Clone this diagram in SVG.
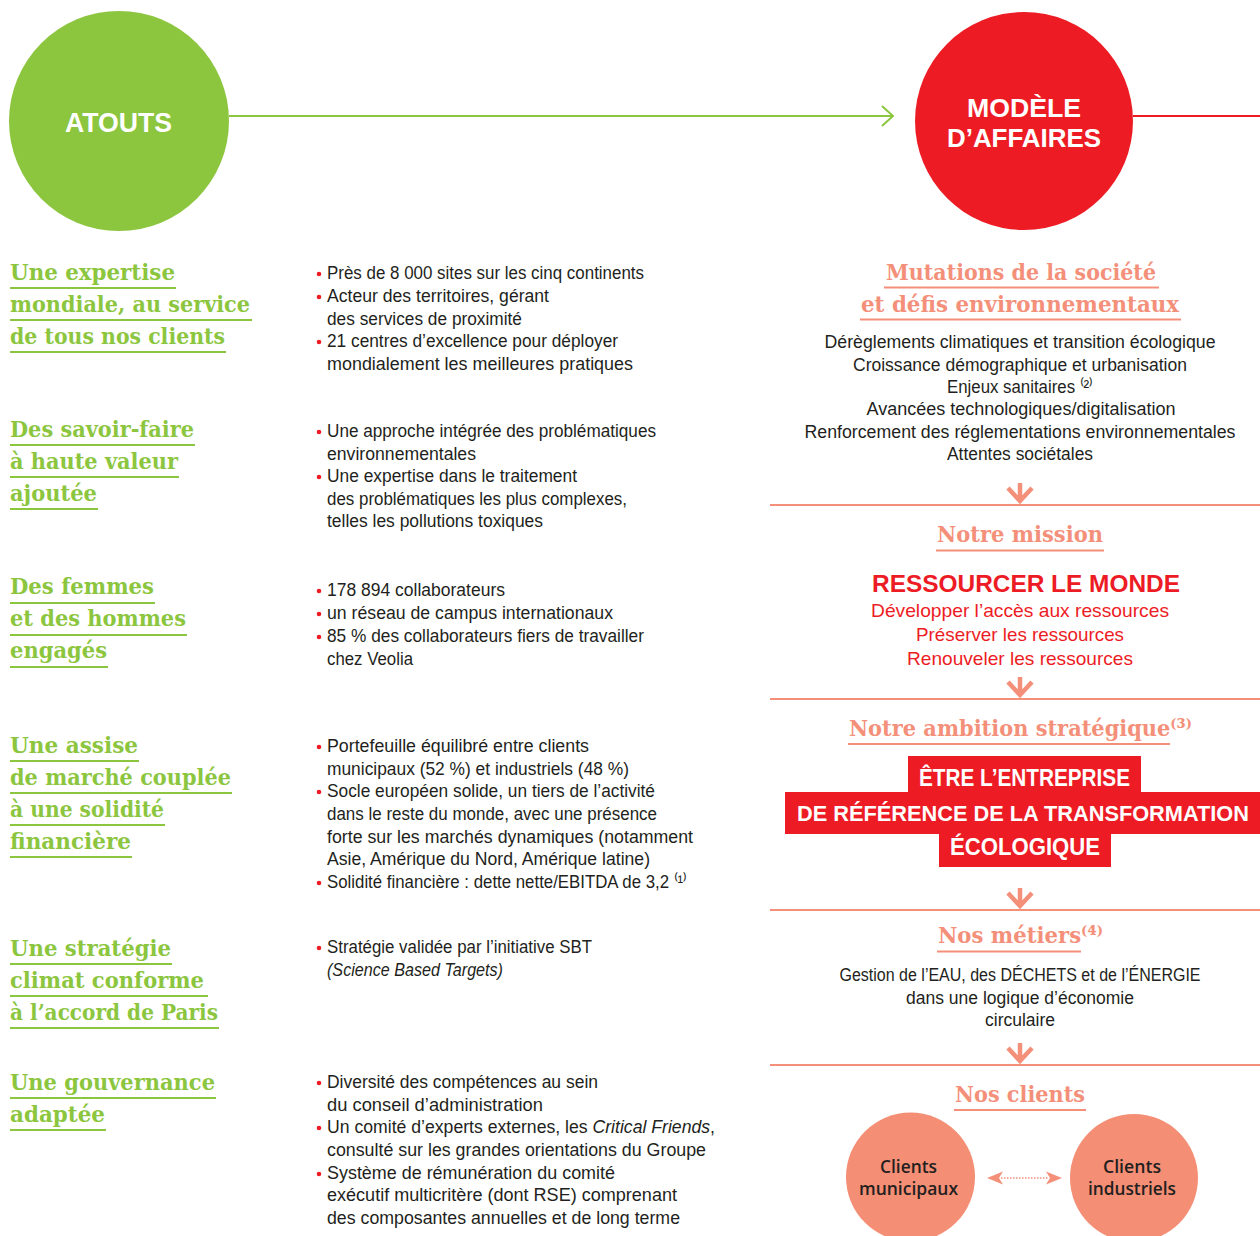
<svg xmlns="http://www.w3.org/2000/svg" width="1260" height="1236" viewBox="0 0 1260 1236">
<defs>
<style>
.hg{font-family:"DejaVu Serif","Liberation Serif",serif;font-weight:bold;font-size:23px;fill:#8cc63f}
.hs{font-family:"DejaVu Serif","Liberation Serif",serif;font-weight:bold;font-size:23px;fill:#f4907a}
.ulg{stroke:#8cc63f;stroke-width:2;fill:none}
.uls{stroke:#f4907a;stroke-width:2;fill:none}
.b{font-family:"Liberation Sans",Arial,sans-serif;font-size:17.5px;fill:#231f20}
.c{text-anchor:middle}
.red{font-family:"Liberation Sans",Arial,sans-serif;fill:#ed1c24;text-anchor:middle}
.wt{font-family:"Liberation Sans",Arial,sans-serif;font-weight:bold;font-size:24px;fill:#fff;text-anchor:middle}
.ct{font-family:"Open Sans","Liberation Sans",sans-serif;font-weight:600;font-size:18px;fill:#231f20;text-anchor:middle}
.dot{fill:#ed1c24}
.sep{stroke:#f4907a;stroke-width:2}
</style>
<path id="chev" d="M-12,-17 L0,-4 L12,-17 M0,-22 V-4" fill="none" stroke="#f4907a" stroke-width="4.5"/>
</defs>
<rect width="1260" height="1236" fill="#fff"/>

<g id="connectors">
<line x1="229" y1="116" x2="893" y2="116" stroke="#8cc63f" stroke-width="2"/>
<polyline points="882,106 893,116 882,126" fill="none" stroke="#8cc63f" stroke-width="2"/>
<line x1="1133" y1="116" x2="1260" y2="116" stroke="#ed1c24" stroke-width="2"/>
<line class="sep" x1="770" y1="505" x2="1260" y2="505"/>
<line class="sep" x1="770" y1="699" x2="1260" y2="699"/>
<line class="sep" x1="770" y1="910" x2="1260" y2="910"/>
<line class="sep" x1="770" y1="1065" x2="1260" y2="1065"/>
<use href="#chev" x="1020" y="505"/>
<use href="#chev" x="1020" y="699"/>
<use href="#chev" x="1020" y="910"/>
<use href="#chev" x="1020" y="1065"/>
<line x1="1001" y1="1178" x2="1048" y2="1178" stroke="#f4907a" stroke-width="1.4" stroke-dasharray="1.5 1.5"/>
<path d="M987,1178 L1003,1171.5 L999,1178 L1003,1184.5 Z" fill="#f4907a"/>
<path d="M1062,1178 L1046,1171.5 L1050,1178 L1046,1184.5 Z" fill="#f4907a"/>
</g>

<g id="atouts">
<circle cx="119" cy="121" r="110" fill="#8cc63f"/>
<text x="118.5" y="132" class="wt" style="font-size:27px" textLength="107" lengthAdjust="spacingAndGlyphs">ATOUTS</text>
</g>

<g id="modele">
<circle cx="1024" cy="121" r="109" fill="#ed1c24"/>
<text x="1024" y="117" class="wt" style="font-size:26px" textLength="114" lengthAdjust="spacingAndGlyphs">MODÈLE</text>
<text x="1024" y="147" class="wt" style="font-size:26px" textLength="154" lengthAdjust="spacingAndGlyphs">D’AFFAIRES</text>
</g>

<g id="atout-expertise">
<text x="10" y="280" class="hg" textLength="165" lengthAdjust="spacingAndGlyphs">Une expertise</text>
<line class="ulg" x1="10" y1="288" x2="176" y2="288"/>
<text x="10" y="312" class="hg" textLength="240" lengthAdjust="spacingAndGlyphs">mondiale, au service</text>
<line class="ulg" x1="10" y1="320" x2="252" y2="320"/>
<text x="10" y="344" class="hg" textLength="215" lengthAdjust="spacingAndGlyphs">de tous nos clients</text>
<line class="ulg" x1="10" y1="352" x2="226" y2="352"/>
<circle class="dot" cx="319" cy="274" r="2.3"/>
<circle class="dot" cx="319" cy="297" r="2.3"/>
<circle class="dot" cx="319" cy="342" r="2.3"/>
<text x="327" y="279" class="b" textLength="317" lengthAdjust="spacingAndGlyphs">Près de 8 000 sites sur les cinq continents</text>
<text x="327" y="302" class="b" textLength="222" lengthAdjust="spacingAndGlyphs">Acteur des territoires, gérant</text>
<text x="327" y="324.5" class="b" textLength="195" lengthAdjust="spacingAndGlyphs">des services de proximité</text>
<text x="327" y="347" class="b" textLength="291" lengthAdjust="spacingAndGlyphs">21 centres d’excellence pour déployer</text>
<text x="327" y="370" class="b" textLength="306" lengthAdjust="spacingAndGlyphs">mondialement les meilleures pratiques</text>
</g>

<g id="atout-savoir-faire">
<text x="10" y="437" class="hg" textLength="184" lengthAdjust="spacingAndGlyphs">Des savoir-faire</text>
<line class="ulg" x1="10" y1="445" x2="195" y2="445"/>
<text x="10" y="469" class="hg" textLength="168" lengthAdjust="spacingAndGlyphs">à haute valeur</text>
<line class="ulg" x1="10" y1="477" x2="179" y2="477"/>
<text x="10" y="501" class="hg" textLength="87" lengthAdjust="spacingAndGlyphs">ajoutée</text>
<line class="ulg" x1="10" y1="509" x2="98" y2="509"/>
<circle class="dot" cx="319" cy="432" r="2.3"/>
<circle class="dot" cx="319" cy="477" r="2.3"/>
<text x="327" y="437" class="b" textLength="329" lengthAdjust="spacingAndGlyphs">Une approche intégrée des problématiques</text>
<text x="327" y="459.5" class="b" textLength="149" lengthAdjust="spacingAndGlyphs">environnementales</text>
<text x="327" y="482" class="b" textLength="250" lengthAdjust="spacingAndGlyphs">Une expertise dans le traitement</text>
<text x="327" y="504.5" class="b" textLength="300" lengthAdjust="spacingAndGlyphs">des problématiques les plus complexes,</text>
<text x="327" y="527" class="b" textLength="216" lengthAdjust="spacingAndGlyphs">telles les pollutions toxiques</text>
</g>

<g id="atout-femmes-hommes">
<text x="10" y="594" class="hg" textLength="144" lengthAdjust="spacingAndGlyphs">Des femmes</text>
<line class="ulg" x1="10" y1="603" x2="155" y2="603"/>
<text x="10" y="626" class="hg" textLength="176" lengthAdjust="spacingAndGlyphs">et des hommes</text>
<line class="ulg" x1="10" y1="635" x2="187" y2="635"/>
<text x="10" y="658" class="hg" textLength="97" lengthAdjust="spacingAndGlyphs">engagés</text>
<line class="ulg" x1="10" y1="667" x2="108" y2="667"/>
<circle class="dot" cx="319" cy="591" r="2.3"/>
<circle class="dot" cx="319" cy="614" r="2.3"/>
<circle class="dot" cx="319" cy="637" r="2.3"/>
<text x="327" y="596" class="b" textLength="178" lengthAdjust="spacingAndGlyphs">178 894 collaborateurs</text>
<text x="327" y="619" class="b" textLength="286" lengthAdjust="spacingAndGlyphs">un réseau de campus internationaux</text>
<text x="327" y="642" class="b" textLength="317" lengthAdjust="spacingAndGlyphs">85 % des collaborateurs fiers de travailler</text>
<text x="327" y="664.5" class="b" textLength="86" lengthAdjust="spacingAndGlyphs">chez Veolia</text>
</g>

<g id="atout-assise">
<text x="10" y="753" class="hg" textLength="128" lengthAdjust="spacingAndGlyphs">Une assise</text>
<line class="ulg" x1="10" y1="761" x2="139" y2="761"/>
<text x="10" y="785" class="hg" textLength="221" lengthAdjust="spacingAndGlyphs">de marché couplée</text>
<line class="ulg" x1="10" y1="793" x2="232" y2="793"/>
<text x="10" y="817" class="hg" textLength="154" lengthAdjust="spacingAndGlyphs">à une solidité</text>
<line class="ulg" x1="10" y1="825" x2="165" y2="825"/>
<text x="10" y="849" class="hg" textLength="121" lengthAdjust="spacingAndGlyphs">financière</text>
<line class="ulg" x1="10" y1="857" x2="132" y2="857"/>
<circle class="dot" cx="319" cy="747" r="2.3"/>
<circle class="dot" cx="319" cy="792" r="2.3"/>
<circle class="dot" cx="319" cy="883" r="2.3"/>
<text x="327" y="752" class="b" textLength="262" lengthAdjust="spacingAndGlyphs">Portefeuille équilibré entre clients</text>
<text x="327" y="775" class="b" textLength="302" lengthAdjust="spacingAndGlyphs">municipaux (52 %) et industriels (48 %)</text>
<text x="327" y="797" class="b" textLength="328" lengthAdjust="spacingAndGlyphs">Socle européen solide, un tiers de l’activité</text>
<text x="327" y="820" class="b" textLength="330" lengthAdjust="spacingAndGlyphs">dans le reste du monde, avec une présence</text>
<text x="327" y="843" class="b" textLength="366" lengthAdjust="spacingAndGlyphs">forte sur les marchés dynamiques (notamment</text>
<text x="327" y="865" class="b" textLength="323" lengthAdjust="spacingAndGlyphs">Asie, Amérique du Nord, Amérique latine)</text>
<text x="327" y="888" class="b" textLength="360" lengthAdjust="spacingAndGlyphs">Solidité financière : dette nette/EBITDA de 3,2 ⁽¹⁾</text>
</g>

<g id="atout-climat">
<text x="10" y="956" class="hg" textLength="161" lengthAdjust="spacingAndGlyphs">Une stratégie</text>
<line class="ulg" x1="10" y1="964" x2="172" y2="964"/>
<text x="10" y="988" class="hg" textLength="194" lengthAdjust="spacingAndGlyphs">climat conforme</text>
<line class="ulg" x1="10" y1="996" x2="208" y2="996"/>
<text x="10" y="1020" class="hg" textLength="208" lengthAdjust="spacingAndGlyphs">à l’accord de Paris</text>
<line class="ulg" x1="10" y1="1028" x2="219" y2="1028"/>
<circle class="dot" cx="319" cy="948" r="2.3"/>
<text x="327" y="953" class="b" textLength="265" lengthAdjust="spacingAndGlyphs">Stratégie validée par l’initiative SBT</text>
<text x="327" y="976" class="b" font-style="italic" textLength="176" lengthAdjust="spacingAndGlyphs">(Science Based Targets)</text>
</g>

<g id="atout-gouvernance">
<text x="10" y="1090" class="hg" textLength="205" lengthAdjust="spacingAndGlyphs">Une gouvernance</text>
<line class="ulg" x1="10" y1="1098" x2="216" y2="1098"/>
<text x="10" y="1122" class="hg" textLength="95" lengthAdjust="spacingAndGlyphs">adaptée</text>
<line class="ulg" x1="10" y1="1130" x2="106" y2="1130"/>
<circle class="dot" cx="319" cy="1083" r="2.3"/>
<circle class="dot" cx="319" cy="1128" r="2.3"/>
<circle class="dot" cx="319" cy="1174" r="2.3"/>
<text x="327" y="1088" class="b" textLength="271" lengthAdjust="spacingAndGlyphs">Diversité des compétences au sein</text>
<text x="327" y="1111" class="b" textLength="216" lengthAdjust="spacingAndGlyphs">du conseil d’administration</text>
<text x="327" y="1133" class="b" textLength="388" lengthAdjust="spacingAndGlyphs">Un comité d’experts externes, les <tspan font-style="italic">Critical Friends</tspan>,</text>
<text x="327" y="1156" class="b" textLength="379" lengthAdjust="spacingAndGlyphs">consulté sur les grandes orientations du Groupe</text>
<text x="327" y="1179" class="b" textLength="288" lengthAdjust="spacingAndGlyphs">Système de rémunération du comité</text>
<text x="327" y="1201" class="b" textLength="350" lengthAdjust="spacingAndGlyphs">exécutif multicritère (dont RSE) comprenant</text>
<text x="327" y="1224" class="b" textLength="353" lengthAdjust="spacingAndGlyphs">des composantes annuelles et de long terme</text>
</g>

<g id="mutations">
<text x="1021" y="280" class="hs c" textLength="270" lengthAdjust="spacingAndGlyphs">Mutations de la société</text>
<line class="uls" x1="884" y1="287.5" x2="1159" y2="287.5"/>
<text x="1020" y="312" class="hs c" textLength="318" lengthAdjust="spacingAndGlyphs">et défis environnementaux</text>
<line class="uls" x1="860" y1="319.5" x2="1181" y2="319.5"/>
<text x="1020" y="348" class="b c" textLength="391" lengthAdjust="spacingAndGlyphs">Dérèglements climatiques et transition écologique</text>
<text x="1020" y="370.5" class="b c" textLength="334" lengthAdjust="spacingAndGlyphs">Croissance démographique et urbanisation</text>
<text x="947" y="393" class="b" textLength="146" lengthAdjust="spacingAndGlyphs">Enjeux sanitaires ⁽²⁾</text>
<text x="1021" y="415" class="b c" textLength="309" lengthAdjust="spacingAndGlyphs">Avancées technologiques/digitalisation</text>
<text x="1020" y="437.5" class="b c" textLength="431" lengthAdjust="spacingAndGlyphs">Renforcement des réglementations environnementales</text>
<text x="1020" y="460" class="b c" textLength="146" lengthAdjust="spacingAndGlyphs">Attentes sociétales</text>
</g>

<g id="mission">
<text x="1020" y="542" class="hs c" textLength="166" lengthAdjust="spacingAndGlyphs">Notre mission</text>
<line class="uls" x1="936" y1="550.5" x2="1104" y2="550.5"/>
<text x="1026" y="592" class="red" font-weight="bold" font-size="24.5" textLength="308" lengthAdjust="spacingAndGlyphs">RESSOURCER LE MONDE</text>
<text x="1020" y="617" class="red" font-size="19" textLength="298" lengthAdjust="spacingAndGlyphs">Développer l’accès aux ressources</text>
<text x="1020" y="641" class="red" font-size="19" textLength="208" lengthAdjust="spacingAndGlyphs">Préserver les ressources</text>
<text x="1020" y="664.5" class="red" font-size="19" textLength="226" lengthAdjust="spacingAndGlyphs">Renouveler les ressources</text>
</g>

<g id="ambition">
<text x="849" y="736" class="hs" textLength="343" lengthAdjust="spacingAndGlyphs">Notre ambition stratégique⁽³⁾</text>
<line class="uls" x1="848" y1="744" x2="1170" y2="744"/>
<rect x="908" y="756" width="233" height="37" fill="#ed1c24"/>
<rect x="785" y="792" width="475" height="42" fill="#ed1c24"/>
<rect x="939" y="833" width="172" height="34" fill="#ed1c24"/>
<text x="1024.5" y="786" class="wt" textLength="211" lengthAdjust="spacingAndGlyphs">ÊTRE L’ENTREPRISE</text>
<text x="1023" y="821" class="wt" style="font-size:21.5px" textLength="452" lengthAdjust="spacingAndGlyphs">DE RÉFÉRENCE DE LA TRANSFORMATION</text>
<text x="1025" y="855" class="wt" textLength="150" lengthAdjust="spacingAndGlyphs">ÉCOLOGIQUE</text>
</g>

<g id="metiers">
<text x="938" y="943" class="hs" textLength="165" lengthAdjust="spacingAndGlyphs">Nos métiers⁽⁴⁾</text>
<line class="uls" x1="937" y1="951.5" x2="1081" y2="951.5"/>
<text x="1020" y="981" class="b c" textLength="361" lengthAdjust="spacingAndGlyphs">Gestion de l’EAU, des DÉCHETS et de l’ÉNERGIE</text>
<text x="1020" y="1003.5" class="b c" textLength="228" lengthAdjust="spacingAndGlyphs">dans une logique d’économie</text>
<text x="1020" y="1026" class="b c" textLength="70" lengthAdjust="spacingAndGlyphs">circulaire</text>
</g>

<g id="clients">
<text x="1020" y="1101.5" class="hs c" textLength="130" lengthAdjust="spacingAndGlyphs">Nos clients</text>
<line class="uls" x1="954" y1="1110" x2="1086" y2="1110"/>
</g>

<g id="clients-municipaux">
<circle cx="910.5" cy="1177" r="64.5" fill="#f48e74"/>
<text x="908.5" y="1173" class="ct" textLength="57" lengthAdjust="spacingAndGlyphs">Clients</text>
<text x="908.5" y="1195" class="ct" textLength="99" lengthAdjust="spacingAndGlyphs">municipaux</text>
</g>

<g id="clients-industriels">
<circle cx="1134" cy="1178" r="64" fill="#f48e74"/>
<text x="1132" y="1173" class="ct" textLength="58" lengthAdjust="spacingAndGlyphs">Clients</text>
<text x="1132" y="1195" class="ct" textLength="88" lengthAdjust="spacingAndGlyphs">industriels</text>
</g>
</svg>
